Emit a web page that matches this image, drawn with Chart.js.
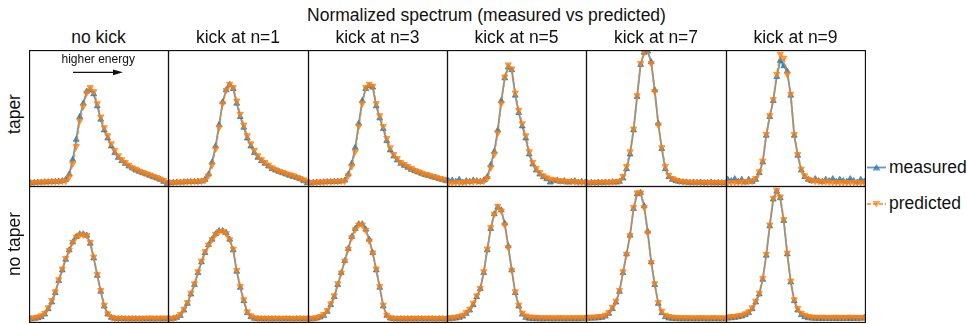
<!DOCTYPE html>
<html>
<head>
<meta charset="utf-8">
<script src="https://cdn.jsdelivr.net/npm/chart.js@4.4.1/dist/chart.umd.min.js"></script>
<style>
body { margin:0; background:#fff; font-family:"Liberation Sans", Arial, sans-serif; color:#111; }
#fig { position:relative; width:967px; height:324px; overflow:hidden; }
#fig canvas { position:absolute; }
.txt { position:absolute; white-space:nowrap; font-size:17.5px; line-height:1; }
</style>
</head>
<body>
<div id="fig"></div>
<script>
// panel titles
var kicks = ["no kick", "kick at n=1", "kick at n=3", "kick at n=5", "kick at n=7", "kick at n=9"];
var rows = ["taper", "no taper"];

// normalized spectra, 40 energy bins each (low -> high energy)
var taperPredicted = [
  [0.01,0.01,0.012,0.012,0.013,0.015,0.015,0.015,0.017,0.02, 0.02,0.05,0.15,0.28,0.47,0.58,0.68,0.72,0.69,0.60, 0.50,0.42,0.36,0.30,0.25,0.21,0.18,0.16,0.14,0.12, 0.11,0.095,0.085,0.075,0.067,0.057,0.047,0.037,0.025,0.01],
  [0.01,0.01,0.012,0.012,0.013,0.015,0.015,0.017,0.018,0.02, 0.025,0.06,0.14,0.26,0.42,0.60,0.70,0.745,0.72,0.62, 0.52,0.44,0.36,0.30,0.25,0.21,0.18,0.16,0.14,0.12, 0.105,0.095,0.085,0.075,0.068,0.06,0.05,0.04,0.03,0.02],
  [0.01,0.01,0.012,0.012,0.013,0.015,0.015,0.017,0.018,0.02, 0.02,0.06,0.13,0.24,0.43,0.60,0.72,0.745,0.73,0.60, 0.51,0.43,0.34,0.27,0.22,0.19,0.16,0.145,0.13,0.115, 0.10,0.09,0.08,0.07,0.065,0.055,0.05,0.04,0.035,0.03],
  [0.005,0.008,0.01,0.01,0.012,0.013,0.015,0.015,0.017,0.018, 0.02,0.04,0.12,0.22,0.38,0.60,0.80,0.89,0.86,0.68, 0.55,0.45,0.36,0.24,0.16,0.115,0.085,0.06,0.045,0.035, 0.03,0.025,0.022,0.02,0.018,0.016,0.015,0.013,0.012,0.01],
  [0.01,0.01,0.01,0.01,0.012,0.012,0.012,0.013,0.015,0.02, 0.055,0.13,0.24,0.41,0.66,0.90,0.985,1.0,0.90,0.69, 0.44,0.27,0.13,0.065,0.04,0.028,0.02,0.015,0.013,0.012, 0.012,0.011,0.01,0.01,0.01,0.01,0.01,0.009,0.008,0.008],
  [0.01,0.01,0.012,0.012,0.013,0.015,0.018,0.02,0.04,0.09, 0.17,0.37,0.51,0.63,0.82,0.97,0.94,0.82,0.67,0.37, 0.22,0.11,0.06,0.035,0.025,0.02,0.018,0.015,0.015,0.013, 0.012,0.012,0.01,0.01,0.01,0.01,0.01,0.01,0.01,0.01]
];
var taperMeasured = [
  [0.005,0.008,0.01,0.01,0.012,0.012,0.014,0.015,0.016,0.02, 0.03,0.07,0.18,0.33,0.50,0.60,0.69,0.70,0.67,0.58, 0.48,0.40,0.34,0.28,0.23,0.195,0.17,0.15,0.13,0.115, 0.10,0.09,0.08,0.07,0.06,0.05,0.04,0.03,0.015,0.0],
  [0.005,0.008,0.01,0.01,0.012,0.013,0.014,0.015,0.016,0.018, 0.03,0.07,0.16,0.28,0.44,0.61,0.70,0.74,0.71,0.60, 0.50,0.42,0.34,0.28,0.23,0.195,0.17,0.15,0.13,0.11, 0.10,0.09,0.08,0.07,0.06,0.052,0.045,0.035,0.02,0.005],
  [0.005,0.008,0.01,0.01,0.012,0.013,0.014,0.015,0.016,0.018, 0.025,0.07,0.15,0.27,0.45,0.62,0.71,0.73,0.72,0.58, 0.49,0.41,0.32,0.25,0.205,0.175,0.15,0.135,0.12,0.105, 0.095,0.085,0.075,0.065,0.06,0.05,0.045,0.035,0.03,0.02],
  [0.02,0.025,0.015,0.03,0.01,0.02,0.015,0.025,0.02,0.015, 0.025,0.05,0.14,0.24,0.40,0.62,0.79,0.87,0.85,0.66, 0.53,0.43,0.34,0.22,0.145,0.10,0.07,0.05,0.035,0.01, 0.02,0.025,0.015,0.02,0.01,0.015,0.02,0.01,0.015,0.01],
  [0.005,0.008,0.006,0.01,0.008,0.01,0.01,0.012,0.01,0.015, 0.04,0.11,0.22,0.40,0.65,0.89,0.98,0.99,0.91,0.70, 0.45,0.26,0.11,0.05,0.03,0.02,0.015,0.012,0.01,0.008, 0.01,0.008,0.01,0.006,0.008,0.01,0.005,0.008,0.006,0.005],
  [0.03,0.02,0.035,0.015,0.03,0.01,0.03,0.015,0.03,0.08, 0.16,0.36,0.50,0.62,0.80,0.92,0.88,0.84,0.66,0.36, 0.21,0.10,0.05,0.03,0.02,0.035,0.02,0.015,0.03,0.02, 0.035,0.015,0.03,0.02,0.015,0.035,0.02,0.01,0.03,0.015]
];
var noTaperPredicted = [
  [0.01,0.015,0.02,0.03,0.05,0.09,0.145,0.21,0.30,0.38, 0.46,0.52,0.58,0.62,0.635,0.635,0.63,0.58,0.47,0.34, 0.22,0.11,0.045,0.02,0.012,0.01,0.012,0.011,0.01,0.012, 0.011,0.01,0.012,0.011,0.013,0.012,0.011,0.012,0.013,0.012],
  [0.01,0.012,0.02,0.04,0.08,0.13,0.20,0.27,0.36,0.44, 0.51,0.56,0.60,0.64,0.66,0.66,0.645,0.60,0.53,0.37, 0.25,0.15,0.06,0.03,0.015,0.012,0.011,0.012,0.01,0.011, 0.012,0.01,0.011,0.012,0.011,0.01,0.012,0.011,0.012,0.011],
  [0.01,0.012,0.015,0.025,0.04,0.07,0.12,0.18,0.27,0.35, 0.44,0.53,0.615,0.675,0.71,0.71,0.67,0.59,0.50,0.38, 0.25,0.11,0.035,0.015,0.012,0.01,0.011,0.012,0.01,0.011, 0.012,0.011,0.01,0.012,0.011,0.012,0.01,0.011,0.012,0.01],
  [0.015,0.015,0.02,0.025,0.035,0.055,0.08,0.125,0.18,0.235, 0.36,0.53,0.69,0.79,0.85,0.815,0.71,0.54,0.37,0.21, 0.11,0.05,0.03,0.022,0.02,0.018,0.016,0.015,0.016,0.015, 0.014,0.015,0.016,0.015,0.014,0.015,0.016,0.015,0.015,0.014],
  [0.02,0.02,0.02,0.025,0.025,0.035,0.055,0.095,0.14,0.22, 0.36,0.49,0.63,0.84,0.95,0.95,0.84,0.65,0.43,0.27, 0.13,0.065,0.035,0.025,0.02,0.018,0.016,0.015,0.016,0.015, 0.014,0.015,0.016,0.015,0.014,0.015,0.016,0.015,0.014,0.015],
  [0.02,0.025,0.025,0.03,0.035,0.045,0.06,0.09,0.14,0.20, 0.31,0.49,0.71,0.91,0.97,0.92,0.75,0.50,0.29,0.15, 0.085,0.05,0.035,0.025,0.02,0.02,0.018,0.02,0.018,0.017, 0.018,0.02,0.018,0.017,0.018,0.02,0.018,0.017,0.018,0.017]
];
var noTaperMeasured = [
  [0.005,0.008,0.012,0.02,0.04,0.08,0.13,0.20,0.29,0.37, 0.45,0.52,0.58,0.62,0.64,0.64,0.63,0.57,0.46,0.33, 0.21,0.10,0.04,0.015,0.008,0.006,0.006,0.005,0.005,0.005, 0.005,0.005,0.004,0.005,0.005,0.004,0.005,0.005,0.004,0.005],
  [0.005,0.008,0.015,0.03,0.07,0.12,0.19,0.26,0.35,0.43, 0.50,0.56,0.60,0.64,0.665,0.665,0.65,0.60,0.52,0.36, 0.24,0.14,0.05,0.02,0.008,0.006,0.005,0.005,0.005,0.004, 0.005,0.005,0.004,0.005,0.005,0.004,0.005,0.005,0.004,0.005],
  [0.004,0.006,0.01,0.018,0.03,0.06,0.11,0.17,0.26,0.35, 0.44,0.53,0.62,0.68,0.715,0.715,0.675,0.60,0.50,0.37, 0.24,0.10,0.03,0.01,0.006,0.005,0.005,0.004,0.005,0.005, 0.004,0.005,0.005,0.004,0.005,0.005,0.004,0.005,0.005,0.004],
  [0.005,0.008,0.01,0.015,0.025,0.045,0.07,0.11,0.17,0.23, 0.35,0.52,0.68,0.79,0.84,0.82,0.72,0.55,0.37,0.20, 0.10,0.04,0.015,0.008,0.006,0.005,0.005,0.004,0.005,0.005, 0.004,0.005,0.005,0.004,0.005,0.005,0.004,0.005,0.005,0.01],
  [0.008,0.01,0.01,0.012,0.015,0.025,0.045,0.08,0.13,0.21, 0.35,0.49,0.63,0.83,0.94,0.95,0.85,0.66,0.43,0.26, 0.12,0.05,0.02,0.01,0.008,0.006,0.005,0.005,0.004,0.005, 0.005,0.004,0.005,0.005,0.004,0.005,0.005,0.004,0.005,0.005],
  [0.01,0.012,0.015,0.02,0.025,0.035,0.05,0.08,0.13,0.19, 0.30,0.48,0.70,0.90,0.96,0.91,0.74,0.49,0.28,0.14, 0.07,0.035,0.02,0.012,0.01,0.008,0.008,0.007,0.008,0.007, 0.008,0.007,0.008,0.007,0.008,0.007,0.008,0.007,0.008,0.015]
];

var bins = taperPredicted[0].map(function(v, i){ return i; });

var BLUE = "rgba(31,119,180,0.72)";
var ORANGE = "rgba(255,127,14,0.72)";

var lefts = [29, 168, 308, 447, 586, 726, 865];
var tops = [50, 186];
var fig = document.getElementById("fig");

var frame = {
  id: "frame",
  afterDraw: function(chart){
    var ctx = chart.ctx, a = chart.chartArea;
    ctx.save();
    ctx.strokeStyle = "#111";
    ctx.lineWidth = 1.3;
    ctx.strokeRect(a.left + 0.5, a.top + 0.5, a.right - a.left - 1, a.bottom - a.top - 1);
    ctx.restore();
  }
};

function addText(str, x, y, css){
  var d = document.createElement("div");
  d.className = "txt";
  d.textContent = str;
  d.style.left = x + "px";
  d.style.top = y + "px";
  if (css) d.style.cssText += css;
  fig.appendChild(d);
  return d;
}

function panel(k, r, pred, meas){
  var c = document.createElement("canvas");
  c.width = lefts[k+1] - lefts[k] + 1;
  c.height = 137;
  c.style.left = lefts[k] + "px";
  c.style.top = tops[r] + "px";
  fig.appendChild(c);
  new Chart(c, {
    type: "line",
    data: {
      labels: bins,
      datasets: [
        { label: "predicted", data: pred, borderColor: ORANGE, backgroundColor: ORANGE,
          borderWidth: 1.8, borderDash: [4, 2], pointStyle: "triangle", pointRotation: 180,
          pointRadius: 3.6, pointBorderWidth: 1, tension: 0 },
        { label: "measured", data: meas, borderColor: BLUE, backgroundColor: BLUE,
          borderWidth: 1.8, pointStyle: "triangle", pointRadius: 3.4, pointBorderWidth: 1, tension: 0 }
      ]
    },
    options: {
      responsive: false,
      animation: false,
      devicePixelRatio: 1,
      layout: { padding: 0, autoPadding: false },
      plugins: { legend: { display: false }, tooltip: { enabled: false } },
      scales: {
        x: { type: "category", display: false, offset: true },
        y: { display: false, min: -0.025, max: 1.0 }
      }
    },
    plugins: [frame]
  });
}

for (var k = 0; k < 6; k++) {
  panel(k, 0, taperPredicted[k], taperMeasured[k]);
  panel(k, 1, noTaperPredicted[k], noTaperMeasured[k]);
  var cx = (lefts[k] + lefts[k+1]) / 2;
  addText(kicks[k], cx, 29.2, "transform:translateX(-50%);");
}

addText("Normalized spectrum (measured vs predicted)", 486.5, 7, "transform:translateX(-50%);");
addText(rows[0], 15, 114, "transform:translate(-50%,-50%) rotate(-90deg);");
addText(rows[1], 15, 244, "transform:translate(-50%,-50%) rotate(-90deg);");
addText("higher energy", 61.5, 52.8, "font-size:12px;");
addText("measured", 889, 158.5);
addText("predicted", 889, 194.7);

// arrow + legend keys
var svg = '<svg width="967" height="324" style="position:absolute;left:0;top:0;pointer-events:none">' +
  '<line x1="73" y1="72.3" x2="115" y2="72.3" stroke="#111" stroke-width="1.3"/>' +
  '<polygon points="113,69.4 123,72.3 113,75.2" fill="#111"/>' +
  '<line x1="867" y1="167.5" x2="886" y2="167.5" stroke="' + BLUE + '" stroke-width="1.8"/>' +
  '<polygon points="876.5,164 880.5,170.5 872.5,170.5" fill="' + BLUE + '"/>' +
  '<line x1="867" y1="204" x2="886" y2="204" stroke="' + ORANGE + '" stroke-width="1.8" stroke-dasharray="4,2"/>' +
  '<polygon points="872.5,201 880.5,201 876.5,207.5" fill="' + ORANGE + '"/>' +
  '</svg>';
fig.insertAdjacentHTML("beforeend", svg);
</script>
</body>
</html>
